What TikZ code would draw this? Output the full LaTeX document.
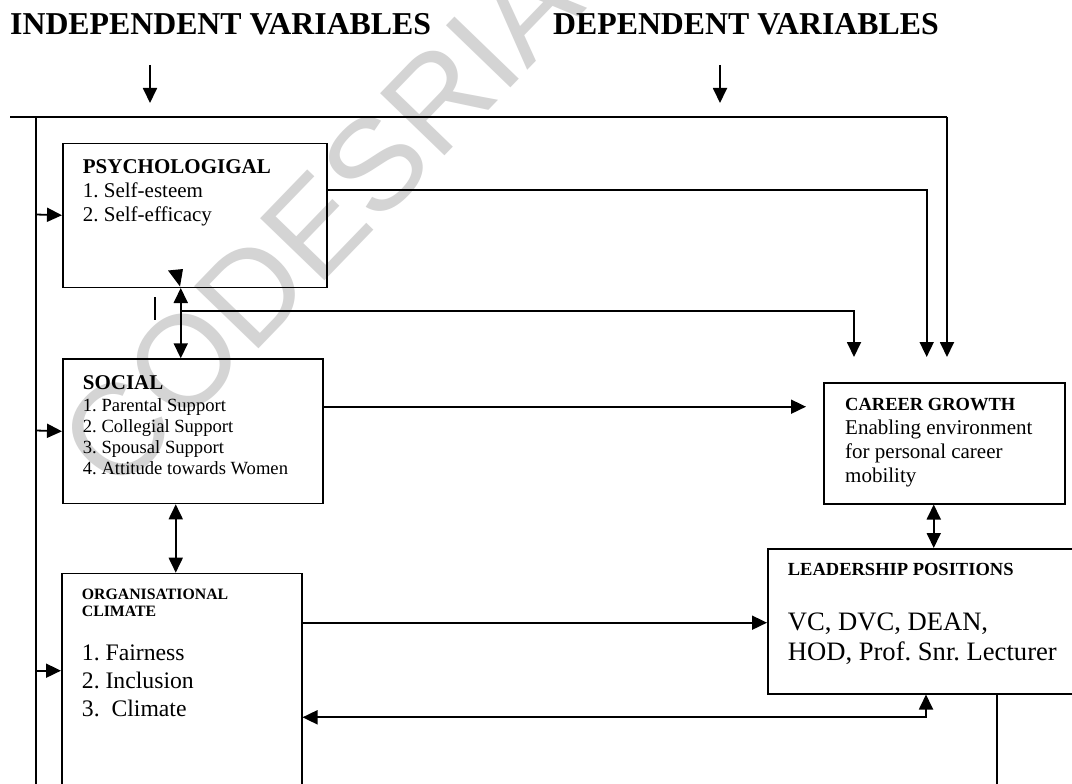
\documentclass[tikz,border=0pt]{standalone}
\usepackage{fontspec}
\setmainfont{Liberation Serif}
\newfontfamily\wmfont{Liberation Sans}
\usetikzlibrary{arrows.meta}
\frenchspacing
\begin{document}
\begin{tikzpicture}[x=1pt,y=-1pt,
  box/.style={draw, line width=1.5pt, inner sep=0pt, anchor=north west},
  lbl/.style={anchor=base west, inner sep=0pt},
  arr/.style={line width=1.8pt, -{Triangle[length=15pt,width=14pt]}},
  dbl/.style={line width=1.8pt, {Triangle[length=15pt,width=14pt]}-{Triangle[length=15pt,width=14pt]}},
  ttl/.style={lbl, font=\fontsize{31.8}{36}\selectfont\bfseries},
  hdA/.style={lbl, font=\fontsize{21}{25}\selectfont\bfseries},
  txA/.style={lbl, font=\fontsize{21}{25}\selectfont},
  txS/.style={lbl, font=\fontsize{18.6}{21}\selectfont},
  hdS/.style={lbl, font=\fontsize{18.5}{21}\selectfont\bfseries},
  hdO/.style={lbl, font=\fontsize{15.8}{18}\selectfont\bfseries},
  txO/.style={lbl, font=\fontsize{23.7}{28}\selectfont},
  txL/.style={lbl, font=\fontsize{26.6}{30}\selectfont},
  wmark/.style={rotate=46, text=black!17, inner sep=0pt, font=\wmfont\fontsize{130}{130}\selectfont}]
\clip (0,0) rectangle (1072,784);
\fill[white] (0,0) rectangle (1072,784);

% watermark
\node[wmark] (wm) at (320,221) {CODESRIA};

% titles
\node[ttl] (indep) at (10,35) {INDEPENDENT VARIABLES};
\node[ttl] (dep) at (553,35) {DEPENDENT VARIABLES};
\coordinate (a1s) at (150,65);
\coordinate (a1e) at (150,103);
\coordinate (a2s) at (720,65);
\coordinate (a2e) at (720,103);
\draw[arr] (a1s) -- (a1e);
\draw[arr] (a2s) -- (a2e);

% boxes
\node[box, minimum width=264pt, minimum height=144pt] (psy) at (62,142.5) {};
\node[box, minimum width=260pt, minimum height=144.5pt] (soc) at (62,358.3) {};
\node[box, minimum width=240pt, minimum height=240pt] (org) at (61,572.7) {};
\node[box, minimum width=241pt, minimum height=121pt] (car) at (823,382) {};
\node[box, minimum width=320pt, minimum height=145pt] (lead) at (767,548) {};

% box texts
\node[hdA] (psyh) at (82.7,173) {PSYCHOLOGIGAL};
\node[txA] (psy1) at (82.7,197) {1. Self-esteem};
\node[txA] (psy2) at (82.7,221) {2. Self-efficacy};

\node[hdA] (soch) at (82.7,389) {SOCIAL};
\node[txS] (soc1) at (82.7,411) {1. Parental Support};
\node[txS] (soc2) at (82.7,432) {2. Collegial Support};
\node[txS] (soc3) at (82.7,453.3) {3. Spousal Support};
\node[txS] (soc4) at (82.7,474.3) {4. Attitude towards Women};

\node[hdO] (orgh1) at (81.7,599) {ORGANISATIONAL};
\node[hdO] (orgh2) at (81.7,616.7) {CLIMATE};
\node[txO] (org1) at (81.7,660) {1. Fairness};
\node[txO] (org2) at (81.7,688.3) {2. Inclusion};
\node[txO] (org3) at (81.7,716.7) {3.\ \ Climate};

\node[hdS] (carh) at (845,410) {CAREER GROWTH};
\node[txA] (car1) at (845,434) {Enabling environment};
\node[txA] (car2) at (845,458) {for personal career};
\node[txA] (car3) at (845,482) {mobility};

\node[hdS] (leadh) at (787.7,575) {LEADERSHIP POSITIONS};
\node[txL] (lead1) at (787.7,630) {VC, DVC, DEAN,};
\node[txL] (lead2) at (787.7,660) {HOD, Prof. Snr. Lecturer};

% top frame line and left vertical line
\coordinate (tl) at (10,116.7);
\coordinate (tr) at (947,116.7);
\coordinate (cgin3) at (947,357);
\draw[line width=2pt] (tl) -- (tr);
\draw[arr] (tr) -- (cgin3);
\coordinate (lvtop) at (36,116.7);
\coordinate (lvbot) at (36,790);
\draw[line width=1.3pt] (lvtop) -- (lvbot);

% left feed arrows
\coordinate (lp) at (36,214.5);
\coordinate (ls) at (36,430.5);
\coordinate (lo) at (36,670.7);
\draw[arr] (lp) -- (psy.west);
\draw[arr] (ls) -- (soc.west);
\draw[arr] (lo) -- ([yshift=-98pt]org.north west);

% psychological -> career growth
\coordinate (psyo) at (326,190);
\coordinate (cgin2) at (926.7,357);
\draw[arr] (psyo) -| (cgin2);

% psych <-> social, with branch to career growth
\draw[dbl] ([xshift=-14pt]psy.south) -- ([xshift=-12pt]soc.north);
\coordinate (pso) at (180,310.7);
\coordinate (cgin1) at (854,357);
\draw[arr] (pso) -| (cgin1);
\fill (168,270.5) -- (183,269) -- (180,286.5) -- cycle;
\coordinate (bar1) at (155,297);
\coordinate (bar2) at (155,320);
\draw[line width=1.3pt] (bar1) -- (bar2);

% social -> career growth
\coordinate (soco) at (322,406.7);
\coordinate (cgL) at (806,406.7);
\draw[arr] (soco) -- (cgL);

% social <-> organisational
\draw[dbl] ([xshift=-17pt]soc.south) -- ([xshift=-6pt]org.north);

% career <-> leadership
\draw[dbl] ([xshift=-10.5pt]car.south) -- ([xshift=6pt]lead.north);

% organisational -> leadership
\draw[arr] ([yshift=-50pt]org.north east) -- ([yshift=-74.7pt]lead.north west);

% leadership -> organisational
\draw[dbl] ([yshift=-144.6pt]org.north east) -| ([xshift=159pt]lead.south west);

% leadership down line
\coordinate (ld) at (997,790);
\draw[line width=1.3pt] ([xshift=230pt]lead.south west) -- (ld);
\end{tikzpicture}
\end{document}
